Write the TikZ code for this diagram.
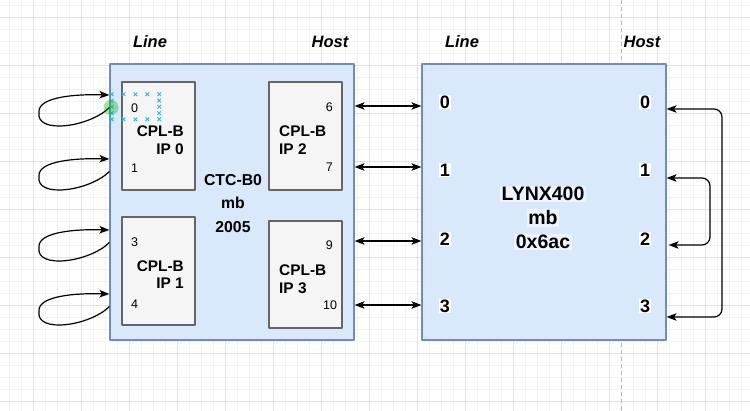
\documentclass[tikz,border=0pt]{standalone}
\usepackage{fontspec}
\setmainfont{Liberation Sans}
\usetikzlibrary{arrows.meta}
\definecolor{boxfill}{HTML}{DAE8FC}
\definecolor{boxline}{HTML}{6C8EBF}
\definecolor{ipfill}{HTML}{F5F5F5}
\definecolor{ipline}{HTML}{666666}
\definecolor{hint}{HTML}{29B6F2}
\definecolor{minorgrid}{HTML}{F3F3F3}
\definecolor{majorgrid}{HTML}{E2E2E2}
\definecolor{pageline}{HTML}{B8B8B8}
\begin{document}
\begin{tikzpicture}[x=1pt,y=-1pt,>={Stealth[length=10pt,width=7.5pt,inset=2.5pt]}, line join=round,
	bigbox/.style={draw=boxline,fill=boxfill,line width=1.2pt,inner sep=0pt,minimum width=244pt,minimum height=276pt},
	ipbox/.style={draw=ipline,fill=ipfill,line width=1.2pt,inner sep=0pt,minimum width=73pt},
	iptitle/.style={font=\fontsize{15.4}{17.8}\selectfont\bfseries,inner sep=0pt},
	ipport/.style={font=\fontsize{12.5}{14}\selectfont,inner sep=0pt},
	hdr/.style={font=\fontsize{16.5}{18}\selectfont\bfseries\itshape,inner sep=0pt},
	lxport/.style={font=\fontsize{18}{20}\selectfont\bfseries,fill=white,inner sep=1pt},
	lxtitle/.style={font=\fontsize{19.5}{22}\selectfont\bfseries,fill=white,fill opacity=0.55,text opacity=1,inner sep=1.5pt},
	link/.style={line width=1.2pt,black}]
	\useasboundingbox (0,0) rectangle (750,411);
	\fill[white] (0,0) rectangle (750,411);
	% grid
	\foreach \i in {0,...,63} \draw[minorgrid,line width=0.8pt] ({-2.5+12*\i},0) -- ++(0,411);
	\foreach \j in {0,...,34} \draw[minorgrid,line width=0.8pt] (0,{5+12*\j}) -- ++(750,0);
	\foreach \i in {0,...,14} \draw[majorgrid,line width=0.8pt] ({33.5+48*\i},0) -- ++(0,411);
	\foreach \j in {0,...,8} \draw[majorgrid,line width=0.8pt] (0,{17+48*\j}) -- ++(750,0);
	\draw[pageline,line width=0.8pt,dash pattern=on 4pt off 3pt] (621.5,0) -- (621.5,411);
	% headers
	\node[hdr] (hl1) at (150,42) {Line};
	\node[hdr] (hh1) at (330,42) {Host};
	\node[hdr] (hl2) at (462,42) {Line};
	\node[hdr] (hh2) at (642,42) {Host};
	% CTC-B0
	\node[bigbox] (ctc) at (232,202) {};
	\node[ipbox,minimum height=108pt] (ip0) at (158.5,136) {};
	\node[ipbox,minimum height=108pt] (ip1) at (158.5,271) {};
	\node[ipbox,minimum height=108pt] (ip2) at (305.5,136) {};
	\node[ipbox,minimum height=107pt] (ip3) at (305.5,274.5) {};
	\node[iptitle,align=right,anchor=east] (t0) at (184,140.2) {CPL-B\\IP 0};
	\node[iptitle,align=right,anchor=east] (t1) at (184,274.7) {CPL-B\\IP 1};
	\node[iptitle,align=left,anchor=west] (t2) at (279,140.2) {CPL-B\\IP 2};
	\node[iptitle,align=left,anchor=west] (t3) at (279,279.3) {CPL-B\\IP 3};
	\node[ipport] (c0) at (134.7,108.3) {0};
	\node[ipport] (c1) at (134.7,168.3) {1};
	\node[ipport] (c3) at (134.7,242.3) {3};
	\node[ipport] (c4) at (134.7,304.3) {4};
	\node[ipport] (c6) at (329.3,107.3) {6};
	\node[ipport] (c7) at (329.3,167.7) {7};
	\node[ipport] (c9) at (329.3,245) {9};
	\node[ipport] (c10) at (330,305) {10};
	\node[align=center,inner sep=0pt,font=\fontsize{15.8}{23.5}\selectfont\bfseries] (ctclbl) at (233,203.5) {CTC-B0\\mb\\2005};
	% LYNX400
	\node[bigbox] (lynx) at (544,202) {};
	\node[lxtitle] (lx1) at (543,194) {LYNX400};
	\node[lxtitle] (lx2) at (543,218) {mb};
	\node[lxtitle] (lx3) at (543,242) {0x6ac};
	\foreach \n/\y in {0/102,1/170,2/239,3/306} {
		\node[lxport] (ll\n) at (445,\y) {\n};
		\node[lxport] (lh\n) at (645,\y) {\n};
	}
	% links
	\foreach \y in {106,167,241,305}
		\draw[link,<->] (ctc.east |- 0,\y) -- (lynx.west |- 0,\y);
	\draw[link,<->,rounded corners=8pt] (lynx.east |- 0,109) -- (722,109) -- (722,317) -- (lynx.east |- 0,317);
	\draw[link,<->,rounded corners=8pt] (lynx.east |- 0,178) -- (710,178) -- (710,245) -- ([xshift=2pt]lynx.east |- 0,245);
	% loopbacks on the line side
	\foreach \t in {95,159,230,294}
		\draw[link,->] (ctc.west |- 0,{\t+12.5}) .. controls (90,\t+32) and (35,\t+40) .. (39,\t+17) .. controls (38,\t+2) and (75,\t-1) .. (ctc.west |- 0,\t);
	% hover marks
	\foreach \x in {111.7,123.5,135.4,147.3,159.2}
		\foreach \y in {94.3,119.3}
			\draw[hint,line width=0.9pt] (\x-1.8,\y-1.8) -- (\x+1.8,\y+1.8) (\x-1.8,\y+1.8) -- (\x+1.8,\y-1.8);
	\foreach \x in {111.7,159.2}
		\foreach \y in {100.6,106.8,113.1}
			\draw[hint,line width=0.9pt] (\x-1.8,\y-1.8) -- (\x+1.8,\y+1.8) (\x-1.8,\y+1.8) -- (\x+1.8,\y-1.8);
	\fill[green!70!black,fill opacity=0.35] (111,107.5) circle (7.5);
\end{tikzpicture}
\end{document}
